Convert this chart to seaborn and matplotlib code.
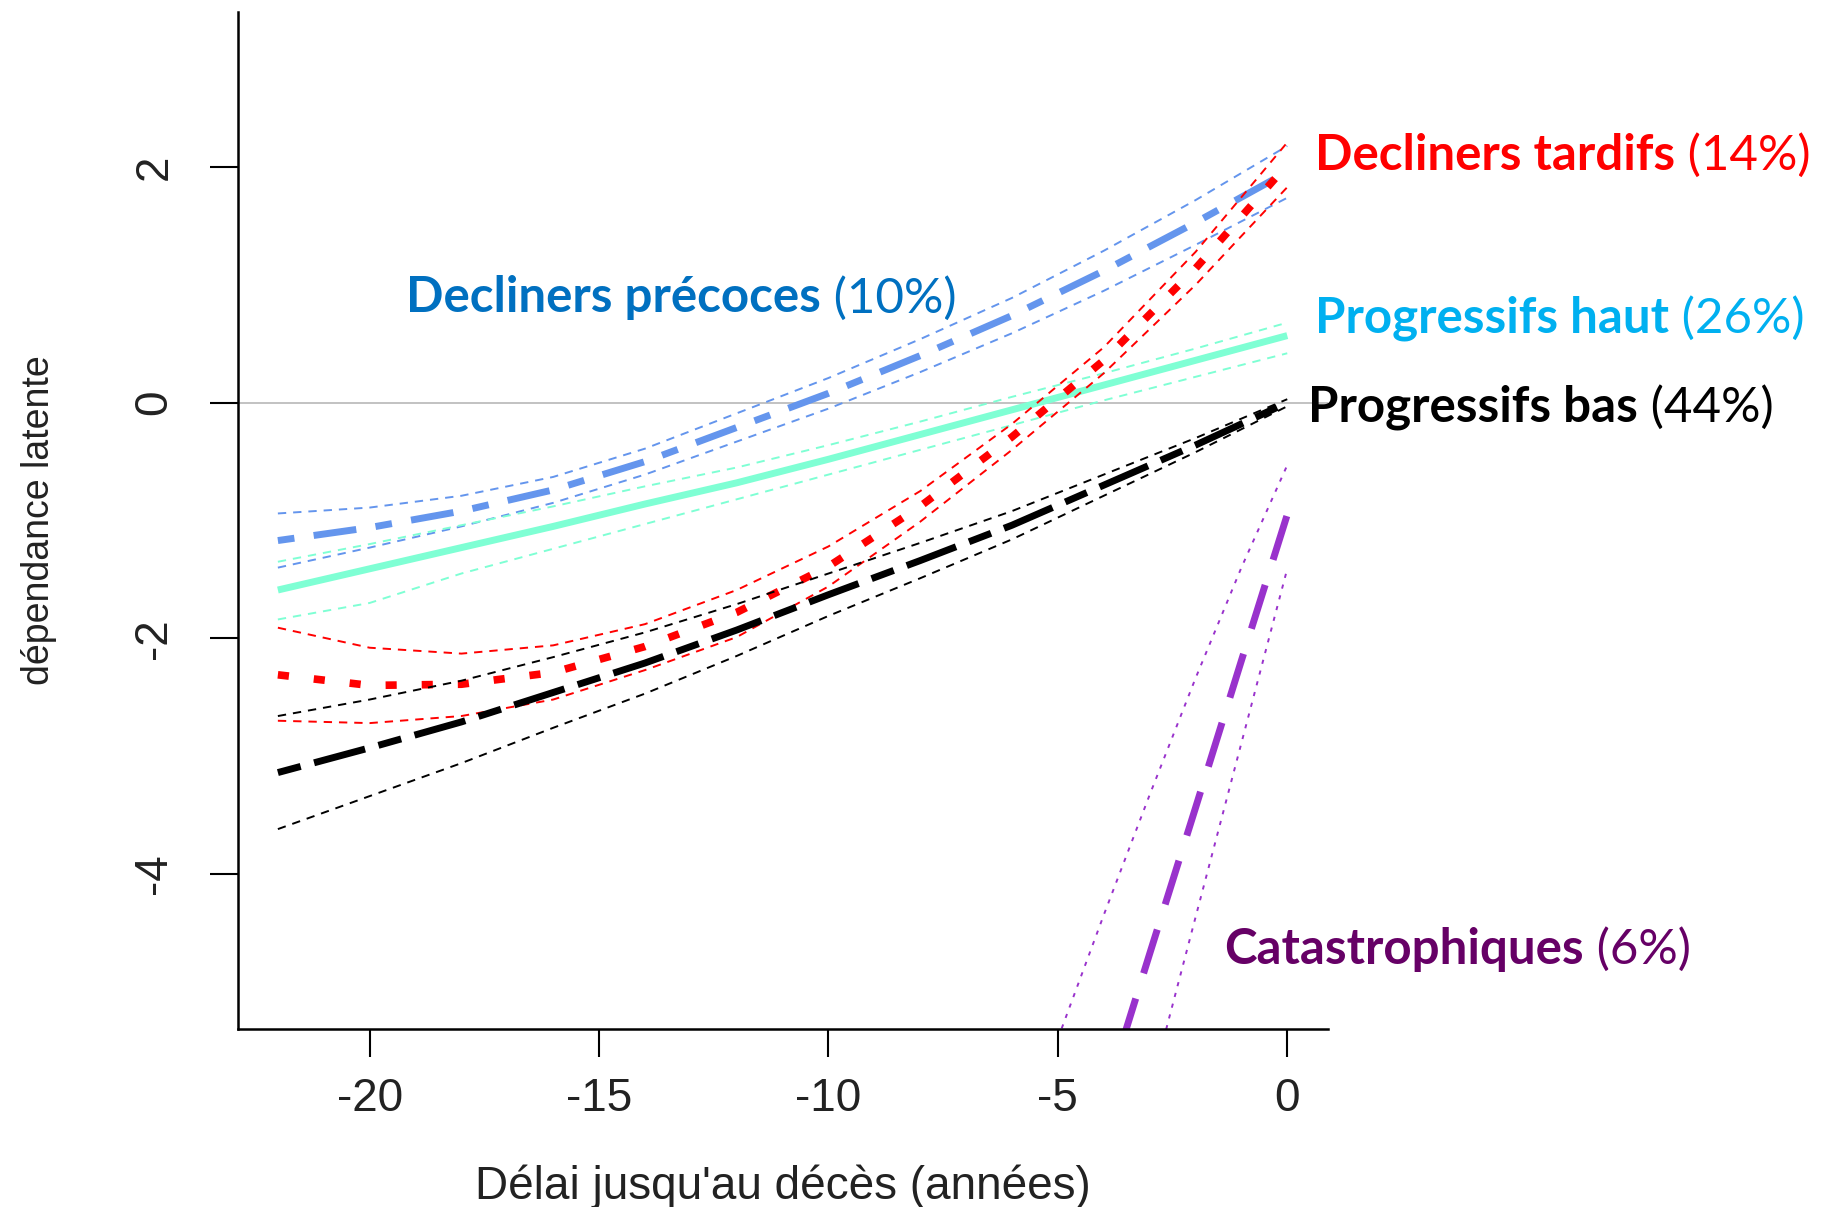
import matplotlib
matplotlib.use("Agg")
import matplotlib.pyplot as plt
import pandas as pd
import seaborn as sns

# temps jusqu'au deces
annees = [-22, -20, -18, -16, -14, -12, -10, -8, -6, -4, -2, 0]

precoces_moy = [-1.17, -1.06, -0.92, -0.74, -0.50, -0.21, 0.08, 0.40, 0.74, 1.12, 1.53, 1.96]
precoces_haut = [-0.94, -0.89, -0.79, -0.63, -0.39, -0.09, 0.21, 0.54, 0.89, 1.29, 1.72, 2.18]
precoces_bas = [-1.40, -1.23, -1.05, -0.85, -0.61, -0.33, -0.05, 0.26, 0.59, 0.95, 1.34, 1.74]

haut_moy = [-1.59, -1.41, -1.23, -1.05, -0.86, -0.68, -0.48, -0.27, -0.06, 0.15, 0.36, 0.57]
haut_haut = [-1.35, -1.20, -1.04, -0.88, -0.71, -0.55, -0.36, -0.16, 0.05, 0.25, 0.46, 0.68]
haut_bas = [-1.84, -1.70, -1.45, -1.24, -1.03, -0.82, -0.61, -0.40, -0.19, 0.02, 0.22, 0.42]

tardifs_moy = [-2.31, -2.40, -2.39, -2.29, -2.07, -1.78, -1.39, -0.88, -0.29, 0.36, 1.14, 2.02]
tardifs_haut = [-1.91, -2.08, -2.13, -2.06, -1.88, -1.59, -1.22, -0.75, -0.18, 0.47, 1.28, 2.21]
tardifs_bas = [-2.70, -2.72, -2.66, -2.52, -2.27, -1.99, -1.56, -1.01, -0.40, 0.25, 1.00, 1.83]

bas_moy = [-3.14, -2.93, -2.71, -2.46, -2.21, -1.93, -1.63, -1.34, -1.04, -0.70, -0.36, 0.0]
bas_haut = [-2.66, -2.52, -2.36, -2.16, -1.95, -1.71, -1.45, -1.19, -0.92, -0.61, -0.30, 0.03]
bas_bas = [-3.62, -3.34, -3.06, -2.76, -2.47, -2.15, -1.81, -1.49, -1.16, -0.79, -0.42, -0.03]

cata_x = [-3.6, -3, -2, -1, 0]
cata_moy = [-5.43, -4.68, -3.44, -2.19, -0.95]
cata_haut_x = [-5, -4, -3, -2, -1, 0]
cata_haut = [-5.40, -4.35, -3.33, -2.34, -1.40, -0.53]
cata_bas_x = [-2.7, -2, -1, 0]
cata_bas = [-5.41, -4.37, -2.89, -1.41]

sns.set_style("ticks")
plt.rcParams["font.family"] = ["Liberation Sans", "DejaVu Sans"]
plt.rcParams["lines.scale_dashes"] = False
plt.rcParams["axes.unicode_minus"] = False

fig = plt.figure(figsize=(18.34, 12.07), dpi=100)
ax = fig.add_axes([0.1295, 0.1472, 0.5944, 0.8431])

ax.axhline(0, color="#bdbdbd", lw=1.3, zorder=0)

fin = (0, (6, 5))  # tirets fins des intervalles


def courbe(x, y, couleur, lw, style):
    sns.lineplot(x=x, y=y, ax=ax, color=couleur, lw=lw, linestyle=style,
                 errorbar=None, solid_capstyle="butt", dash_capstyle="butt")


# Decliners precoces
courbe(annees, precoces_haut, "cornflowerblue", 1.4, fin)
courbe(annees, precoces_bas, "cornflowerblue", 1.4, fin)
courbe(annees, precoces_moy, "cornflowerblue", 5, (0, (12, 14, 31, 14)))

# Progressifs haut
courbe(annees, haut_haut, "aquamarine", 1.4, fin)
courbe(annees, haut_bas, "aquamarine", 1.4, fin)
courbe(annees, haut_moy, "aquamarine", 5, "-")

# Decliners tardifs
courbe(annees, tardifs_haut, "red", 1.4, fin)
courbe(annees, tardifs_bas, "red", 1.4, fin)
courbe(annees, tardifs_moy, "red", 5.5, (0, (8, 18)))

# Progressifs bas
courbe(annees, bas_haut, "black", 1.4, fin)
courbe(annees, bas_bas, "black", 1.4, fin)
courbe(annees, bas_moy, "black", 5, (0, (17, 10, 38, 10)))

# Catastrophiques
courbe(cata_haut_x, cata_haut, "darkorchid", 1.4, (0, (3, 5)))
courbe(cata_bas_x, cata_bas, "darkorchid", 1.4, (0, (3, 5)))
courbe(cata_x, cata_moy, "darkorchid", 5, (0, (33, 19)))

ax.set_xlim(-22.88, 0.88)
ax.set_ylim(-5.32, 3.32)
ax.set_xticks([-20, -15, -10, -5, 0])
ax.set_yticks([-4, -2, 0, 2])
ax.set_yticklabels(["-4", "-2", "0", "2"], rotation=90, va="center")
ax.tick_params(axis="both", direction="out", length=20, width=1.5,
               labelsize=33, color="black", labelcolor="#222222")
ax.tick_params(axis="x", pad=14)
ax.tick_params(axis="y", pad=24)
sns.despine(ax=ax)
for s in ["left", "bottom"]:
    ax.spines[s].set_linewidth(1.8)
    ax.spines[s].set_color("black")

ax.set_xlabel("Délai jusqu'au décès (années)", fontsize=33, color="#222222")
ax.set_ylabel("dépendance latente", fontsize=27, color="#222222")
ax.xaxis.set_label_coords(0.5, -0.155)
ax.yaxis.set_label_coords(-0.182, 0.5)
ax.xaxis.label.set_va("center")
ax.yaxis.label.set_va("center")

# etiquettes des trajectoires
etiquettes = [
    ("Decliners précoces", "(10%)", "#0070c0", -19.21, 0.89),
    ("Decliners tardifs", "(14%)", "#ff0000", 0.61, 2.10),
    ("Progressifs haut", "(26%)", "#00b0f0", 0.61, 0.72),
    ("Progressifs bas", "(44%)", "black", 0.46, -0.04),
    ("Catastrophiques", "(6%)", "#660066", -1.38, -4.64),
]
police = ["Lato", "DejaVu Sans"]
for gras, pct, couleur, x, y in etiquettes:
    t = ax.text(x, y, gras, fontsize=35.5, fontweight="bold", color=couleur,
                va="center", ha="left", family=police, clip_on=False)
    ax.annotate(" " + pct, xy=(1, 0), xycoords=t, va="bottom", ha="left",
                fontsize=35.5, color=couleur, family=police, annotation_clip=False)

fig.savefig("out.png", dpi=100)
